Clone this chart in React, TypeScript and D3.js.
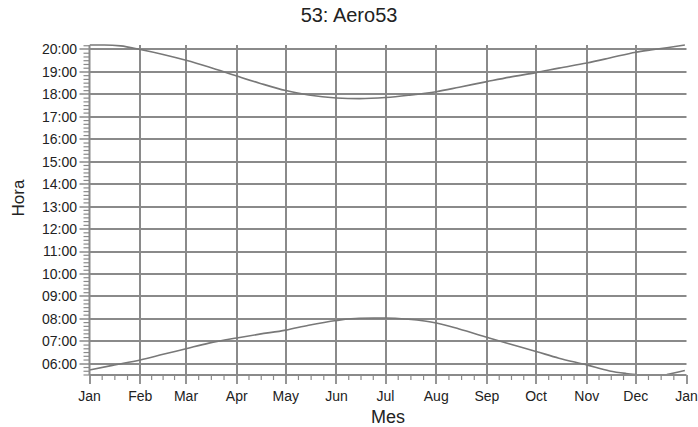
import React from 'react';
import * as d3 from 'd3';

const W = 698;
const H = 427;

const title = '53: Aero53';
const xTitle = 'Mes';
const yTitle = 'Hora';
const monthLabels = ['Jan', 'Feb', 'Mar', 'Apr', 'May', 'Jun', 'Jul', 'Aug', 'Sep', 'Oct', 'Nov', 'Dec', 'Jan'];
const hourTicks = [6, 7, 8, 9, 10, 11, 12, 13, 14, 15, 16, 17, 18, 19, 20];

// sunset (top curve), dates as MM-DD of one year, values in decimal hours
const sunsetDates = ['01-01', '01-10', '01-20', '02-01', '02-15', '03-01', '03-15', '04-01', '04-15', '05-01', '05-15', '06-01', '06-15', '07-01', '07-15', '08-01', '08-15', '09-01', '09-15', '10-01', '10-15', '11-01', '11-15', '12-01', '12-10', '12-20', '12-31'];
const sunsetHours = [20.2, 20.2, 20.16, 20.0, 19.78, 19.52, 19.22, 18.82, 18.5, 18.17, 17.97, 17.84, 17.81, 17.86, 17.96, 18.12, 18.32, 18.57, 18.77, 18.97, 19.17, 19.4, 19.62, 19.88, 19.98, 20.08, 20.2];

// sunrise (bottom curve)
const sunriseDates = ['01-01', '01-15', '02-01', '02-15', '03-01', '03-15', '04-01', '04-15', '05-01', '05-15', '06-01', '06-15', '07-01', '07-15', '08-01', '08-15', '09-01', '09-15', '10-01', '10-15', '11-01', '11-15', '11-25', '12-01', '12-08', '12-15', '12-20', '12-25', '12-31'];
const sunriseHours = [5.72, 5.93, 6.17, 6.42, 6.67, 6.92, 7.15, 7.32, 7.5, 7.72, 7.93, 8.03, 8.04, 7.98, 7.82, 7.55, 7.18, 6.88, 6.55, 6.25, 5.95, 5.68, 5.57, 5.52, 5.46, 5.45, 5.52, 5.6, 5.7];

const yMin = 5.5;
const yMax = 20.2;

const left = 89.5;
const right = 686.5;
const top = 45;
const bottom = 375;

const toDate = (md: string) => {
  const [m, d] = md.split('-').map(Number);
  return new Date(Date.UTC(2021, m - 1, d));
};

const fmtHour = (h: number) => (h < 10 ? '0' : '') + h + ':00';

export default function App() {
  const x = d3.scaleUtc().domain([new Date(Date.UTC(2021, 0, 1)), new Date(Date.UTC(2022, 0, 1))]).range([left, right]);
  const y = d3.scaleLinear().domain([yMin, yMax]).range([bottom, top]);

  const monthTicks = d3.utcMonth.range(new Date(Date.UTC(2021, 0, 1)), new Date(Date.UTC(2022, 0, 2)));
  const minorX: number[] = [];
  for (let i = 0; i < monthTicks.length - 1; i++) {
    const a = x(monthTicks[i]);
    const b = x(monthTicks[i + 1]);
    for (let k = 1; k < 4; k++) minorX.push(a + ((b - a) * k) / 4);
  }
  const minorY: number[] = [];
  for (let i = Math.ceil(yMin * 6); i <= Math.floor(yMax * 6); i++) {
    if (i % 6 !== 0) minorY.push(i / 6);
  }

  const sunset = sunsetDates.map((d, i) => ({ t: toDate(d), v: sunsetHours[i] }));
  const sunrise = sunriseDates.map((d, i) => ({ t: toDate(d), v: sunriseHours[i] }));

  const line = d3
    .line<{ t: Date; v: number }>()
    .defined((d) => d.v >= yMin && d.v <= yMax)
    .x((d) => x(d.t))
    .y((d) => y(d.v))
    .curve(d3.curveMonotoneX);

  const gridColor = '#8a8a8a';
  const lineColor = '#787878';
  const textColor = '#222';
  const font = 'Liberation Sans, Arial, sans-serif';

  return (
    <svg width={W} height={H} style={{ position: 'absolute', left: 0, top: 0, background: '#fff' }} fontFamily={font}>
      <defs>
        <clipPath id="plot">
          <rect x={left} y={top - 1} width={right - left + 1} height={bottom - top + 1} />
        </clipPath>
      </defs>
      <text x={W / 2} y={22} textAnchor="middle" fontSize={20} fill={textColor}>{title}</text>

      {/* horizontal grid */}
      {hourTicks.map((h) => (
        <line key={'hg' + h} x1={left} x2={right} y1={Math.round(y(h))} y2={Math.round(y(h))} stroke={gridColor} strokeWidth={2} />
      ))}
      {/* vertical grid (interior months) */}
      {monthTicks.slice(1, -1).map((m, i) => (
        <line key={'vg' + i} x1={Math.round(x(m))} x2={Math.round(x(m))} y1={top} y2={bottom} stroke={gridColor} strokeWidth={2} />
      ))}

      {/* data */}
      <g clipPath="url(#plot)">
        <path d={line(sunset) || ''} fill="none" stroke={lineColor} strokeWidth={1.6} />
        <path d={line(sunrise) || ''} fill="none" stroke={lineColor} strokeWidth={1.6} />
      </g>

      {/* left axis */}
      <line x1={left} x2={left} y1={top} y2={bottom} stroke={gridColor} strokeWidth={2} />
      {hourTicks.map((h) => (
        <g key={'yt' + h}>
          <line x1={left - 10} x2={left} y1={Math.round(y(h))} y2={Math.round(y(h))} stroke={gridColor} strokeWidth={1.5} />
          <text x={77} y={y(h)} dy="0.35em" textAnchor="end" fontSize={14} fill={textColor}>{fmtHour(h)}</text>
        </g>
      ))}
      {minorY.map((v, i) => (
        <line key={'my' + i} x1={left - 6} x2={left} y1={y(v)} y2={y(v)} stroke={gridColor} strokeWidth={1.2} />
      ))}

      {/* bottom axis */}
      <line x1={left} x2={right} y1={bottom} y2={bottom} stroke={gridColor} strokeWidth={2} />
      {monthTicks.map((m, i) => (
        <g key={'xt' + i}>
          <line x1={Math.round(x(m))} x2={Math.round(x(m))} y1={bottom} y2={bottom + 9} stroke={gridColor} strokeWidth={1.8} />
          <text x={x(m)} y={401} textAnchor="middle" fontSize={14} fill={textColor}>{monthLabels[i]}</text>
        </g>
      ))}
      {minorX.map((v, i) => (
        <line key={'mx' + i} x1={v} x2={v} y1={bottom} y2={bottom + 5} stroke={gridColor} strokeWidth={1.2} />
      ))}

      <text x={(left + right) / 2} y={423} textAnchor="middle" fontSize={18} fill={textColor}>{xTitle}</text>
      <text transform={`translate(24, ${(top + bottom) / 2 - 12}) rotate(-90)`} textAnchor="middle" fontSize={17} fill={textColor}>{yTitle}</text>
    </svg>
  );
}
